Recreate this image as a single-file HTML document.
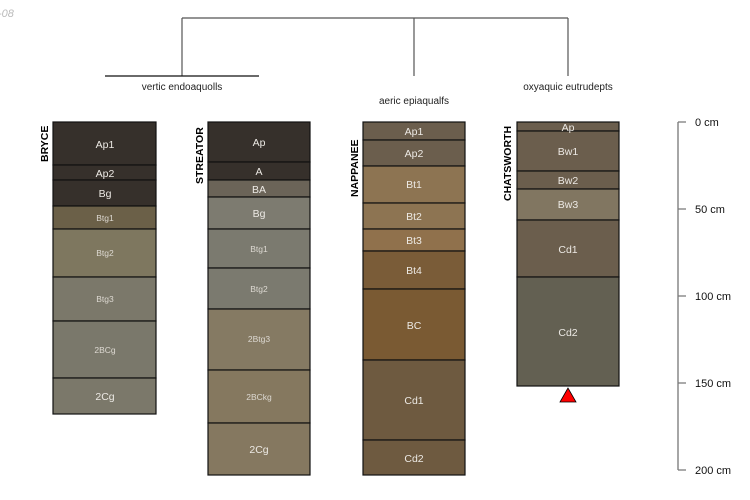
<!DOCTYPE html>
<html><head><meta charset="utf-8"><style>
html,body{margin:0;padding:0;background:#fff;}
svg{display:block;font-family:"Liberation Sans",sans-serif;}
.h{fill:#ece9e4;font-size:10.5px;text-anchor:middle;}
.s{fill:#ddd9d2;font-size:8.5px;text-anchor:middle;}
.n{font-size:10.5px;font-weight:bold;fill:#000;}
rect.r{stroke:#111;stroke-width:1.2;}
</style></head><body>
<svg width="750" height="500" viewBox="0 0 750 500" xmlns="http://www.w3.org/2000/svg">
<text x="-2" y="17" font-size="11" font-style="italic" fill="#bbb">-08</text>
<!-- dendrogram -->
<g stroke="#555" stroke-width="1.2" fill="none">
<path d="M182 18H568M182 18V76M414 18V76M568 18V76"/>
<path d="M105 76H259" stroke="#111"/>
</g>
<text x="182" y="90" font-size="10" text-anchor="middle" fill="#222">vertic endoaquolls</text>
<text x="414" y="104" font-size="10" text-anchor="middle" fill="#222">aeric epiaqualfs</text>
<text x="568" y="90" font-size="10" text-anchor="middle" fill="#222">oxyaquic eutrudepts</text>

<!-- BRYCE -->
<text class="n" transform="translate(48,162) rotate(-90)">BRYCE</text>
<rect class="r" x="53" y="122" width="103" height="43" fill="#36302b"/>
<rect class="r" x="53" y="165" width="103" height="15" fill="#36302b"/>
<rect class="r" x="53" y="180" width="103" height="26" fill="#36302b"/>
<rect class="r" x="53" y="206" width="103" height="23" fill="#6b6048"/>
<rect class="r" x="53" y="229" width="103" height="48" fill="#7e775f"/>
<rect class="r" x="53" y="277" width="103" height="44" fill="#7b786a"/>
<rect class="r" x="53" y="321" width="103" height="57" fill="#7a786b"/>
<rect class="r" x="53" y="378" width="103" height="36" fill="#7b786a"/>
<text class="h" x="105" y="148">Ap1</text>
<text class="h" x="105" y="177">Ap2</text>
<text class="h" x="105" y="197">Bg</text>
<text class="s" x="105" y="221">Btg1</text>
<text class="s" x="105" y="256">Btg2</text>
<text class="s" x="105" y="302">Btg3</text>
<text class="s" x="105" y="353">2BCg</text>
<text class="h" x="105" y="400">2Cg</text>

<!-- STREATOR -->
<text class="n" transform="translate(203,184) rotate(-90)">STREATOR</text>
<rect class="r" x="208" y="122" width="102" height="40" fill="#36302b"/>
<rect class="r" x="208" y="162" width="102" height="18" fill="#36302b"/>
<rect class="r" x="208" y="180" width="102" height="17" fill="#6b6458"/>
<rect class="r" x="208" y="197" width="102" height="32" fill="#7d7b70"/>
<rect class="r" x="208" y="229" width="102" height="39" fill="#7b7a6f"/>
<rect class="r" x="208" y="268" width="102" height="41" fill="#7b7a6f"/>
<rect class="r" x="208" y="309" width="102" height="61" fill="#857a63"/>
<rect class="r" x="208" y="370" width="102" height="53" fill="#85785f"/>
<rect class="r" x="208" y="423" width="102" height="52" fill="#857860"/>
<text class="h" x="259" y="146">Ap</text>
<text class="h" x="259" y="175">A</text>
<text class="h" x="259" y="193">BA</text>
<text class="h" x="259" y="217">Bg</text>
<text class="s" x="259" y="252">Btg1</text>
<text class="s" x="259" y="292">Btg2</text>
<text class="s" x="259" y="342">2Btg3</text>
<text class="s" x="259" y="400">2BCkg</text>
<text class="h" x="259" y="453">2Cg</text>

<!-- NAPPANEE -->
<text class="n" transform="translate(358,197) rotate(-90)">NAPPANEE</text>
<rect class="r" x="363" y="122" width="102" height="18" fill="#6b5e4d"/>
<rect class="r" x="363" y="140" width="102" height="26" fill="#6b5e4d"/>
<rect class="r" x="363" y="166" width="102" height="37" fill="#8d7452"/>
<rect class="r" x="363" y="203" width="102" height="26" fill="#8d7452"/>
<rect class="r" x="363" y="229" width="102" height="22" fill="#90714c"/>
<rect class="r" x="363" y="251" width="102" height="38" fill="#7a5c38"/>
<rect class="r" x="363" y="289" width="102" height="71" fill="#7a5a33"/>
<rect class="r" x="363" y="360" width="102" height="80" fill="#6e5a40"/>
<rect class="r" x="363" y="440" width="102" height="35" fill="#6e5a40"/>
<text class="h" x="414" y="135">Ap1</text>
<text class="h" x="414" y="157">Ap2</text>
<text class="h" x="414" y="188">Bt1</text>
<text class="h" x="414" y="220">Bt2</text>
<text class="h" x="414" y="244">Bt3</text>
<text class="h" x="414" y="274">Bt4</text>
<text class="h" x="414" y="329">BC</text>
<text class="h" x="414" y="404">Cd1</text>
<text class="h" x="414" y="462">Cd2</text>

<!-- CHATSWORTH -->
<text class="n" transform="translate(511,201) rotate(-90)">CHATSWORTH</text>
<rect class="r" x="517" y="122" width="102" height="9" fill="#6b5e4d"/>
<rect class="r" x="517" y="131" width="102" height="40" fill="#6b5e4d"/>
<rect class="r" x="517" y="171" width="102" height="18" fill="#6b5e4d"/>
<rect class="r" x="517" y="189" width="102" height="31" fill="#817661"/>
<rect class="r" x="517" y="220" width="102" height="57" fill="#6b5e4d"/>
<rect class="r" x="517" y="277" width="102" height="109" fill="#636052"/>
<text class="h" x="568" y="131">Ap</text>
<text class="h" x="568" y="155">Bw1</text>
<text class="h" x="568" y="184">Bw2</text>
<text class="h" x="568" y="208">Bw3</text>
<text class="h" x="568" y="253">Cd1</text>
<text class="h" x="568" y="336">Cd2</text>
<polygon points="568,388 560,402 576,402" fill="#f00" stroke="#000" stroke-width="0.8"/>

<!-- axis -->
<g stroke="#777" stroke-width="1.3">
<path d="M678 122V470M678 122H686M678 209H686M678 296H686M678 383H686M678 470H686"/>
</g>
<g font-size="11" fill="#111">
<text x="695" y="126">0 cm</text>
<text x="695" y="213">50 cm</text>
<text x="695" y="300">100 cm</text>
<text x="695" y="387">150 cm</text>
<text x="695" y="474">200 cm</text>
</g>
</svg>
</body></html>
